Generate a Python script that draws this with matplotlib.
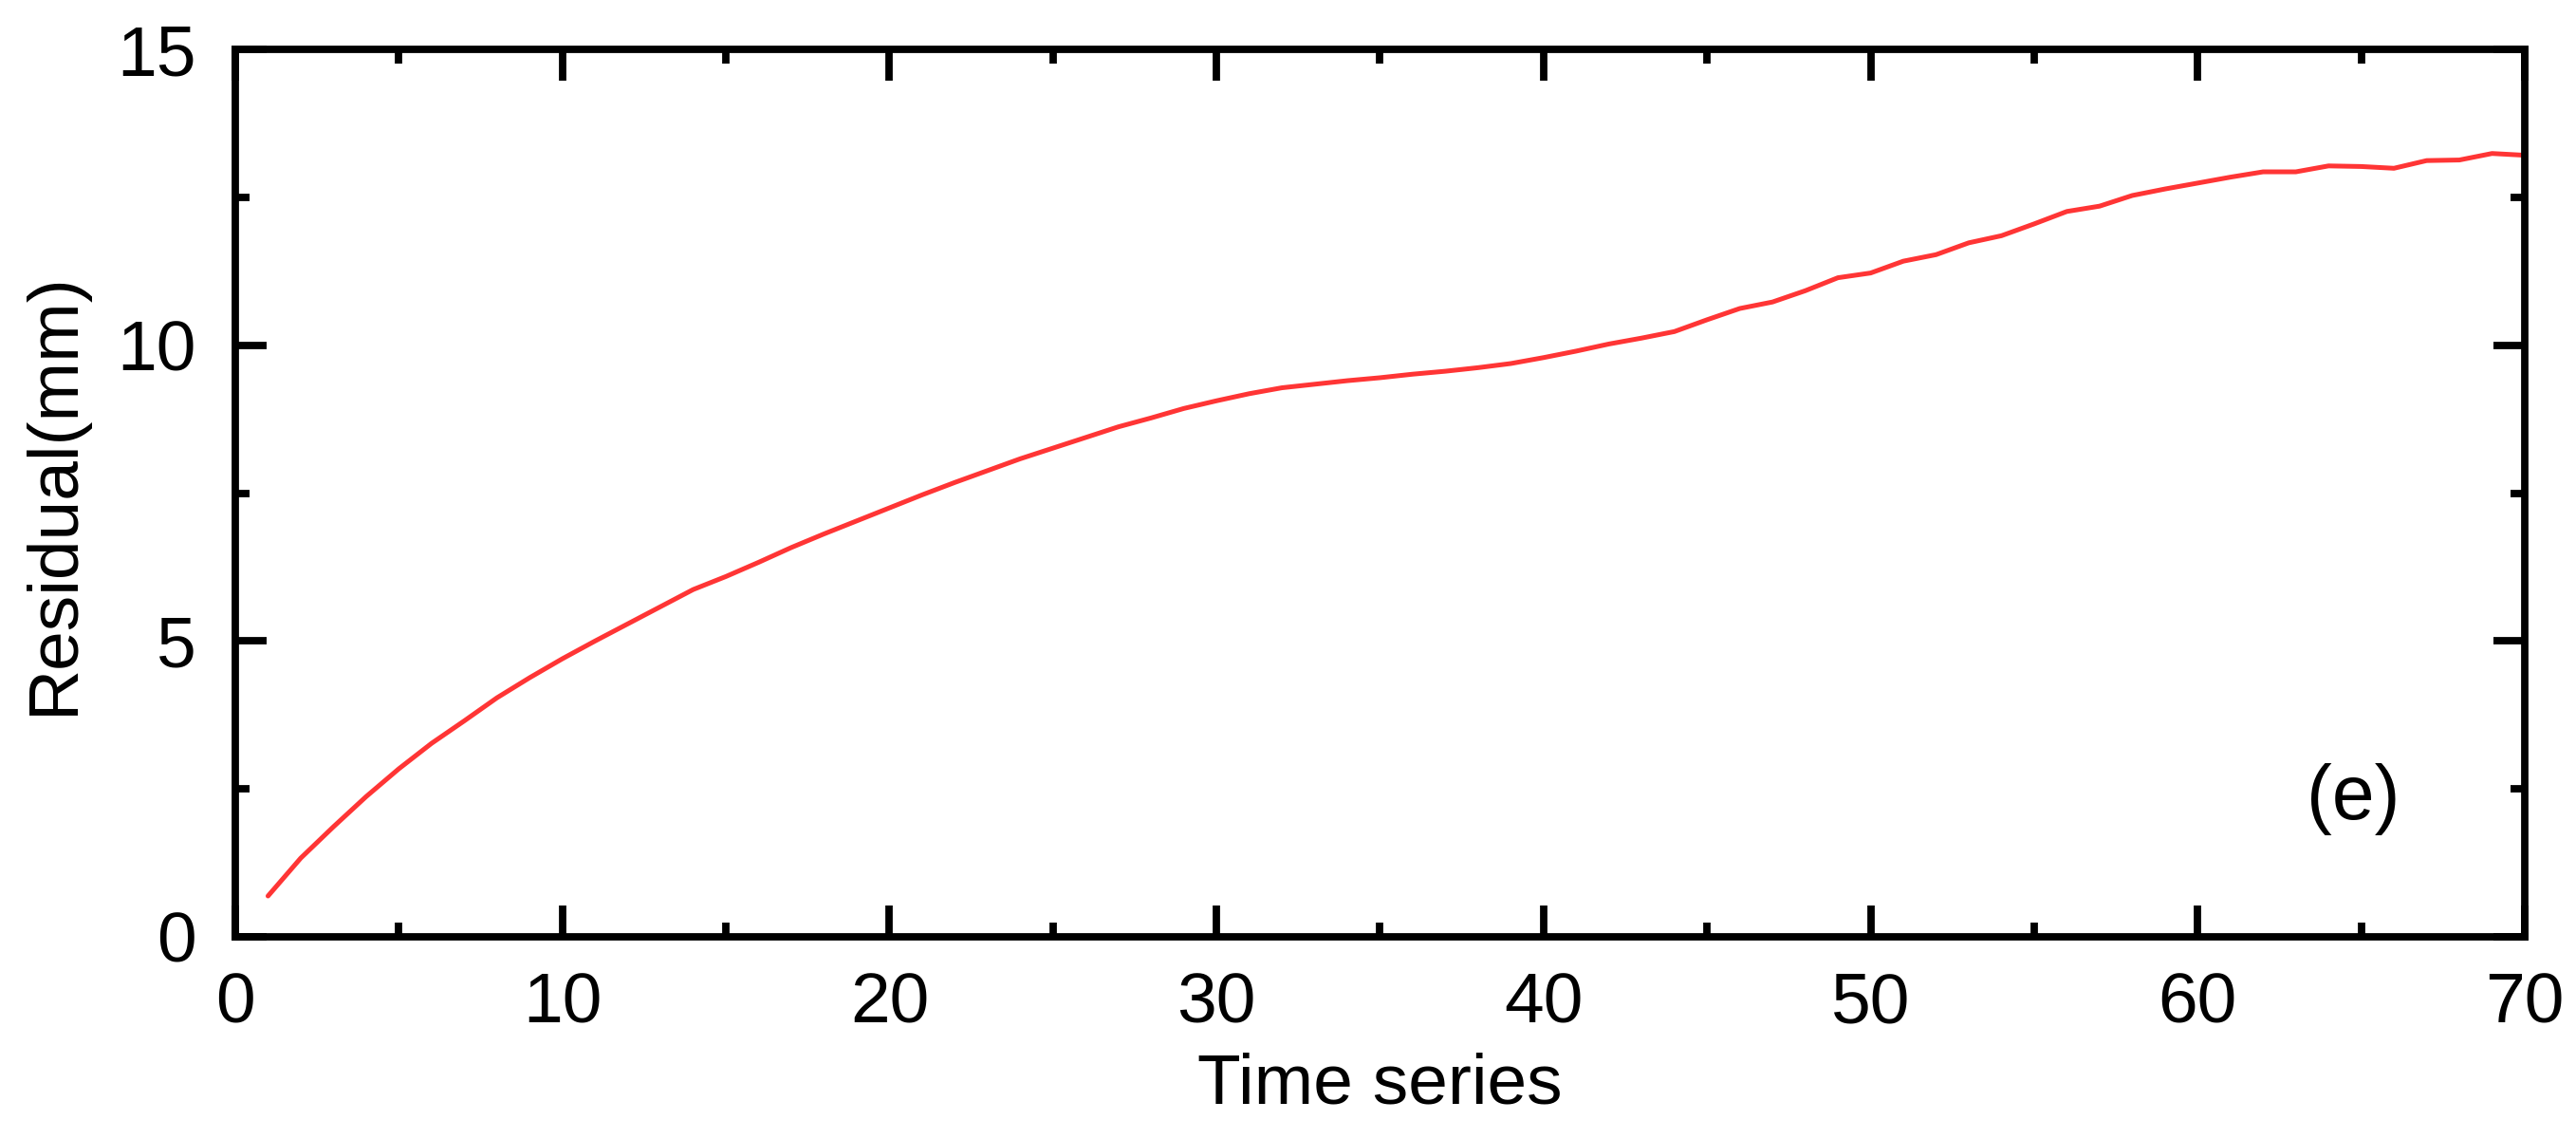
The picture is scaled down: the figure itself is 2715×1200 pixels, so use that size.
import matplotlib
matplotlib.use("Agg")
import matplotlib.pyplot as plt
from matplotlib.ticker import MultipleLocator

plt.rcParams['font.family'] = ['Liberation Sans', 'DejaVu Sans']

time_steps = list(range(1, 71))
residual_mm = [
    0.69, 1.33, 1.86, 2.37, 2.84, 3.27, 3.65, 4.04, 4.38, 4.70,
    5.00, 5.29, 5.58, 5.87, 6.09, 6.33, 6.58, 6.81, 7.03, 7.25,
    7.47, 7.68, 7.88, 8.08, 8.26, 8.44, 8.62, 8.77, 8.93, 9.06,
    9.18, 9.28, 9.34, 9.40, 9.45, 9.51, 9.56, 9.62, 9.69, 9.79,
    9.90, 10.02, 10.12, 10.23, 10.43, 10.62, 10.73, 10.92, 11.14, 11.22,
    11.42, 11.53, 11.73, 11.85, 12.05, 12.26, 12.35, 12.53, 12.64, 12.74,
    12.84, 12.93, 12.93, 13.03, 13.02, 12.99, 13.12, 13.13, 13.24, 13.21,
]
x_ticks = [0, 10, 20, 30, 40, 50, 60, 70]
y_ticks = [0, 5, 10, 15]
panel_label = "(e)"

fig = plt.figure(figsize=(27.15, 12.0), dpi=100)
ax = fig.add_axes([248/2715, 1 - 987/1200, (2661-248)/2715, (987-52)/1200])

ax.plot(time_steps, residual_mm, color='#ff3535', linewidth=3.6,
        solid_joinstyle='round', solid_capstyle='round')

ax.set_xlim(0, 70)
ax.set_ylim(0, 15)
ax.set_xticks(x_ticks)
ax.set_yticks(y_ticks)
ax.xaxis.set_minor_locator(MultipleLocator(5))
ax.yaxis.set_minor_locator(MultipleLocator(2.5))

for s in ax.spines.values():
    s.set_linewidth(5.6)

ax.tick_params(which='both', direction='in', top=True, right=True,
               width=5.6, labelsize=54, colors='black')
ax.tick_params(which='major', length=24)
ax.tick_params(which='minor', length=11)
ax.tick_params(axis='x', which='major', pad=26)
ax.tick_params(axis='y', which='major', pad=30)

ax.set_xlabel("Time series", fontsize=54, labelpad=12)
ax.set_ylabel("Residual(mm)", fontsize=54, labelpad=22)

ax.text(64.75, 2.33, panel_label, fontsize=58, ha='center', va='center')

fig.savefig("out.png", dpi=100, facecolor='white')
